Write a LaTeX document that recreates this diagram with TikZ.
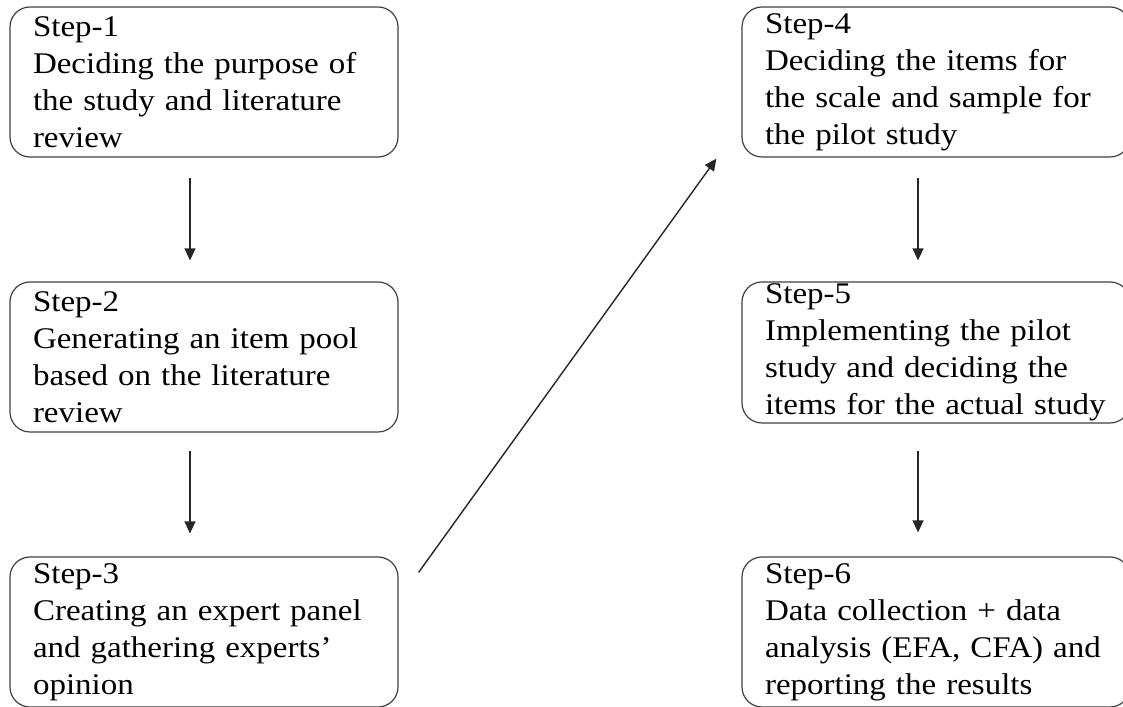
\documentclass[tikz,border=0pt]{standalone}
\usepackage{fontspec}
\setmainfont[FakeStretch=1.1]{Liberation Serif}
\usetikzlibrary{arrows.meta}

\tikzset{
  stepbox/.style={draw=black!75, line width=1.2pt, rounded corners=20pt,
    align=left, text width=342pt, inner xsep=23pt, inner ysep=0pt,
    minimum width=388pt, minimum height=150pt,
    font=\fontsize{30}{37}\selectfont},
  flow/.style={draw=black!85, line width=1.4pt, -{Triangle[length=12pt,width=11pt]}}
}

\begin{document}
\begin{tikzpicture}[x=1pt,y=1pt]
\clip (0,0) rectangle (1123,706);
% left column
\node[stepbox] (s1) at (204,624) {Step-1\\Deciding the purpose of\\the study and literature\\review};
\node[stepbox] (s2) at (204,349) {Step-2\\Generating an item pool\\based on the literature\\review};
\node[stepbox] (s3) at (204,74) {Step-3\\Creating an expert panel\\and gathering experts’\\opinion};
% right column
\node[stepbox] (s4) at (936,624) {Step-4\\Deciding the items for\\the scale and sample for\\the pilot study};
\node[stepbox, minimum height=141pt] (s5) at (936,353.5) {Step-5\\Implementing the pilot\\study and deciding the\\items for the actual study};
\node[stepbox] (s6) at (936,74) {Step-6\\Data collection + data\\analysis (EFA, CFA) and\\reporting the results};
% arrows
\draw[flow] ([xshift=-14pt,yshift=-20pt]s1.south) -- ([xshift=-14pt,yshift=21pt]s2.north);
\draw[flow] ([xshift=-14pt,yshift=-18pt]s2.south) -- ([xshift=-14pt,yshift=23pt]s3.north);
\draw[flow] ([xshift=20pt,yshift=-16pt]s3.north east) -- ([xshift=-25pt,yshift=-1pt]s4.south west);
\draw[flow] ([xshift=-18pt,yshift=-20pt]s4.south) -- ([xshift=-18pt,yshift=21pt]s5.north);
\draw[flow] ([xshift=-18pt,yshift=-27pt]s5.south) -- ([xshift=-18pt,yshift=24pt]s6.north);
\end{tikzpicture}
\end{document}
